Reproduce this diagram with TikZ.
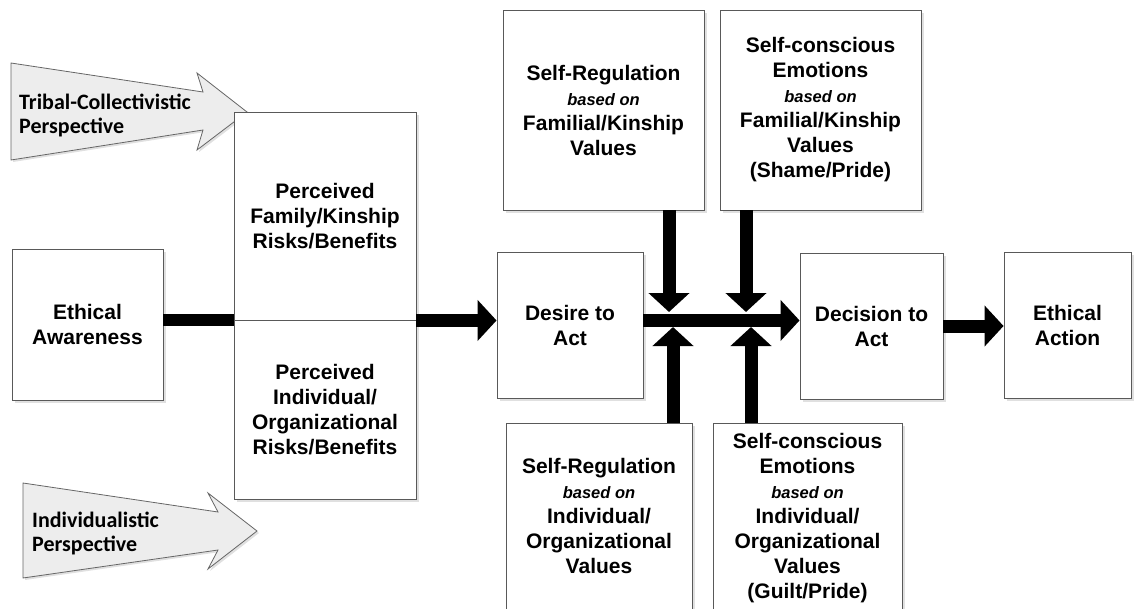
\documentclass[tikz,border=0pt]{standalone}
\usepackage{fontspec}
\setmainfont{Liberation Sans}
\newfontfamily\calfont{Carlito}
\usetikzlibrary{arrows.meta,shadows}

\newcommand{\basedon}{{\fontsize{16.5}{20}\selectfont\itshape based on}}

\begin{document}
\begin{tikzpicture}[
    x=1pt, y=-1pt,
    box/.style={draw=black!65, line width=0.9pt, fill=white, align=center, inner sep=2pt,
        font={\fontsize{21}{25}\selectfont\bfseries},
        drop shadow={shadow xshift=2.5pt, shadow yshift=-2.5pt, fill=black!12, opacity=1}},
    fat/.style={line width=13pt, -{Triangle[width=40pt,length=19pt]}},
    bar/.style={line width=12pt},
    persp/.style={draw=black!60, fill=black!7, line width=0.8pt,
        drop shadow={shadow xshift=2pt, shadow yshift=-2pt, fill=black!12, opacity=1}},
    plabel/.style={anchor=west, align=left, inner sep=0pt,
        font={\calfont\fontsize{22}{24}\selectfont\bfseries}}
]
    \useasboundingbox (0,0) rectangle (1142,608);

    % Perspective arrows
    \draw[persp] (11,63) -- (203,92) -- (197,73) -- (247,112) -- (197,150) -- (203,130) -- (11,160) -- cycle;
    \node[plabel] (tribal) at (19,115) {Tribal-Collectivistic\\Perspective};
    \draw[persp] (23,483) -- (218,512) -- (208,493) -- (257,531) -- (208,569) -- (218,550) -- (23,578) -- cycle;
    \node[plabel] (indiv) at (32,533) {Individualistic\\Perspective};

    % Boxes
    \node[box, minimum width=151pt, minimum height=151pt] (aware) at (87.5,324.5) {Ethical\\Awareness};
    \node[box, minimum width=182pt, minimum height=208pt] (family) at (325,216) {Perceived\\Family/Kinship\\Risks/Benefits};
    \node[box, minimum width=182pt, minimum height=179pt] (orga) at (325,409.5) {Perceived\\Individual/\\Organizational\\Risks/Benefits};
    \node[box, minimum width=146pt, minimum height=146pt] (desire) at (570,325) {Desire to\\Act};
    \node[box, minimum width=201pt, minimum height=200pt] (regtop) at (603.5,110) {Self-Regulation\\\basedon\\Familial/Kinship\\Values};
    \node[box, minimum width=201pt, minimum height=200pt] (emotop) at (820.5,110) {Self-conscious\\Emotions\\\basedon\\Familial/Kinship\\Values\\(Shame/Pride)};
    \node[box, minimum width=143pt, minimum height=146pt] (decision) at (871.5,326) {Decision to\\Act};
    \node[box, minimum width=127pt, minimum height=146pt] (action) at (1067.5,325) {Ethical\\Action};
    \node[box, minimum width=186pt, minimum height=186pt] (regbot) at (599,516) {Self-Regulation\\\basedon\\Individual/\\Organizational\\Values};
    \node[box, minimum width=189pt, minimum height=190pt] (emobot) at (807.5,518) {Self-conscious\\Emotions\\\basedon\\Individual/\\Organizational\\Values\\(Guilt/Pride)};

    % Meeting points on the main arrow
    \coordinate (in1) at (669,312);
    \coordinate (in2) at (746,312);
    \coordinate (up1) at (673,327);
    \coordinate (up2) at (751,327);

    % Main flow
    \draw[bar] (aware.east |- family.south) -- (family.south west);
    \draw[fat] (family.south east) -- (desire.west |- family.south);
    \draw[fat] (desire.east |- family.south) -- (decision.west |- family.south);
    \draw[fat] (decision.east) -- (action.west |- decision.east);

    % Influences
    \draw[fat] (regtop.south -| in1) -- (in1);
    \draw[fat] (emotop.south -| in2) -- (in2);
    \draw[fat] (regbot.north -| up1) -- (up1);
    \draw[fat] (emobot.north -| up2) -- (up2);

\end{tikzpicture}
\end{document}
